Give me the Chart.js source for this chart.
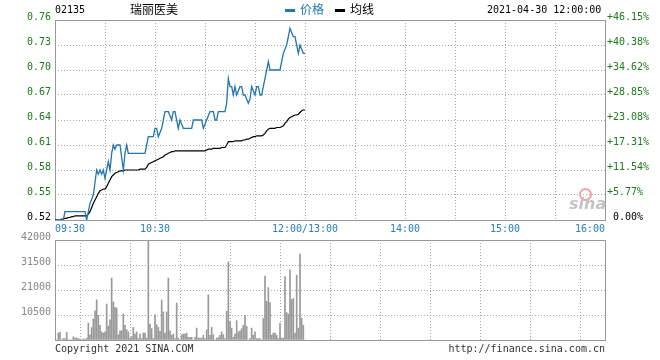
<!DOCTYPE html>
<html>
<head>
<meta charset="utf-8">
<title>02135 瑞丽医美</title>
<script src="https://cdn.jsdelivr.net/npm/chart.js@4.4.0/dist/chart.umd.min.js"></script>
<style>
  body { margin: 0; background: #fff; }
  #wrap { position: relative; width: 660px; height: 360px; overflow: hidden;
          font-family: "DejaVu Sans Mono", monospace; font-size: 10px; color: #000; }
  canvas { position: absolute; left: 0; }
  #price-chart { top: 0; }
  #volume-chart { top: 230px; }
  .txt { position: absolute; white-space: nowrap; line-height: 12px; }
  .cjk { font-family: "Noto Sans CJK SC", sans-serif; font-size: 12px; line-height: 14px; }
  .dash { position: absolute; width: 10px; height: 3px; }
</style>
</head>
<body>
<div id="wrap">
  <canvas id="price-chart" width="660" height="240"></canvas>
  <canvas id="volume-chart" width="660" height="130"></canvas>

  <div class="txt" style="left:55px;top:4px;">02135</div>
  <div class="txt cjk" style="left:130px;top:2px;">瑞丽医美</div>
  <div class="dash" style="left:285px;top:9px;background:#2376ae;"></div>
  <div class="txt cjk" style="left:300px;top:2px;color:#2376ae;">价格</div>
  <div class="dash" style="left:335px;top:9px;background:#000;"></div>
  <div class="txt cjk" style="left:350px;top:2px;">均线</div>
  <div class="txt" style="left:487px;top:4px;">2021-04-30 12:00:00</div>

  <div class="txt" style="left:579px;top:188px;width:9px;height:9px;border:2px solid #f0a0a8;border-radius:50%;"></div>
  <div class="txt" style="left:569px;top:195px;font-family:'DejaVu Sans',sans-serif;font-size:16px;line-height:18px;font-style:italic;font-weight:bold;color:#c4c4c4;">sina</div>

  <div class="txt" style="left:55px;top:343px;color:#333;">Copyright 2021 SINA.COM</div>
  <div class="txt" style="right:55px;top:343px;color:#333;">http://finance.sina.com.cn</div>
</div>

<script>
// 02135 瑞丽医美 intraday, 2021-04-30 (minutes since 09:30, morning session only)
const prevClose = 0.52;

const prices = [
  0.52, 0.52, 0.52, 0.52, 0.52, 0.52,
  0.53, 0.53, 0.53, 0.53, 0.53, 0.53, 0.53, 0.53, 0.53, 0.53, 0.53, 0.53, 0.53,
  0.52, 0.53, 0.54, 0.545, 0.55, 0.565, 0.58, 0.575, 0.58, 0.575,
  0.58, 0.57, 0.58, 0.59, 0.58, 0.60, 0.61, 0.605, 0.61, 0.61,
  0.61, 0.595, 0.58, 0.60, 0.61,
  0.60, 0.60, 0.60, 0.60, 0.60, 0.60, 0.60, 0.60, 0.60, 0.60, 0.60,
  0.61, 0.62, 0.62, 0.62, 0.62,
  0.63, 0.63, 0.62, 0.625, 0.63, 0.64,
  0.65, 0.65, 0.65,
  0.645, 0.64, 0.65, 0.65, 0.64, 0.63, 0.64, 0.635,
  0.63, 0.63, 0.63, 0.63, 0.63, 0.63,
  0.64, 0.64, 0.64, 0.64, 0.64, 0.64,
  0.63, 0.635, 0.64, 0.645,
  0.65, 0.65, 0.65,
  0.64, 0.64,
  0.65, 0.65, 0.65, 0.65, 0.65,
  0.66, 0.69, 0.68, 0.68, 0.67, 0.68, 0.67, 0.675, 0.68, 0.68,
  0.67, 0.67, 0.665, 0.66, 0.665, 0.68, 0.675, 0.67, 0.68, 0.68,
  0.67, 0.67, 0.68, 0.69, 0.70, 0.71,
  0.70, 0.70, 0.70, 0.70, 0.70, 0.70, 0.70,
  0.71, 0.72, 0.725, 0.73, 0.74, 0.75, 0.745, 0.74, 0.74, 0.73,
  0.72, 0.73, 0.725, 0.72, 0.72
];

const avgPrices = [
  0.52, 0.52, 0.52, 0.52, 0.521, 0.521, 0.522, 0.522, 0.523, 0.523,
  0.524, 0.524, 0.525, 0.525, 0.525, 0.525, 0.525, 0.525, 0.525, 0.525,
  0.527, 0.53, 0.535, 0.54, 0.544, 0.548, 0.552, 0.555, 0.556, 0.557,
  0.557, 0.56, 0.564, 0.568, 0.572, 0.574, 0.576, 0.577, 0.578, 0.579,
  0.579, 0.579, 0.58, 0.58, 0.58, 0.58, 0.58, 0.58, 0.58, 0.58,
  0.58, 0.581, 0.581, 0.581, 0.581, 0.583, 0.587, 0.588, 0.589, 0.59,
  0.591, 0.592, 0.593, 0.594, 0.595, 0.596, 0.598, 0.599, 0.60, 0.601,
  0.602, 0.602, 0.603, 0.603, 0.603, 0.603, 0.603, 0.603, 0.603, 0.603,
  0.603, 0.603, 0.603, 0.603, 0.603, 0.603, 0.603, 0.603, 0.603, 0.603,
  0.603, 0.604, 0.605, 0.605, 0.605, 0.606, 0.606, 0.606, 0.606, 0.606,
  0.607, 0.607, 0.607, 0.61, 0.614, 0.614, 0.614, 0.614, 0.615, 0.615,
  0.615, 0.615, 0.615, 0.616, 0.616, 0.617, 0.617, 0.618, 0.619, 0.62,
  0.62, 0.621, 0.621, 0.621, 0.621, 0.622, 0.624, 0.627, 0.629, 0.63,
  0.63, 0.63, 0.63, 0.631, 0.631, 0.631, 0.632, 0.633, 0.636, 0.638,
  0.641, 0.643, 0.644, 0.645, 0.646, 0.646, 0.647, 0.649, 0.651, 0.652,
  0.652
];

const volumes = [
  0, 0, 2900, 3200, 0, 600, 600, 3200, 0, 0,
  0, 1300, 800, 800, 600, 400, 0, 400, 400, 800,
  7100, 2200, 5200, 8800, 12300, 16900, 10400, 6200, 3400, 2900,
  3400, 15100, 5900, 8500, 26000, 16000, 13700, 13400, 2200, 3800,
  3900, 10900, 6200, 4300, 3400, 800, 1400, 5300, 2500, 3400,
  600, 2500, 600, 2900, 2900, 800, 41700, 6700, 4800, 600,
  10600, 6400, 5300, 3600, 16800, 11800, 2900, 11800, 26000, 3900,
  2000, 2500, 600, 15500, 800, 0, 2200, 2500, 2500, 2900,
  1100, 1100, 1100, 0, 1100, 5000, 800, 800, 800, 2000,
  600, 4300, 19000, 2000, 5300, 2200, 0, 800, 1100, 2000,
  3400, 2200, 600, 12000, 32800, 7800, 5000, 1100, 2500, 8100,
  3400, 3900, 4800, 6200, 10400, 5700, 0, 600, 5000, 2000,
  3400, 600, 600, 600, 0, 9000, 26800, 16200, 22000, 15700,
  2000, 2900, 2900, 2000, 600, 7000, 800, 800, 26600, 11500,
  10900, 29500, 17000, 17400, 2900, 27200, 5000, 36100, 9200, 6200,
  0
];

// one entry per trading minute, 0 = 09:30, 150 = 12:00
const minutes = prices.map((p, i) => i);

const gridMinutes = [0, 30, 60, 90, 120, 150, 180, 210, 240, 270, 300, 330];
const timeTickMinutes = [0, 60, 150, 210, 270, 330];
const timeTickLabels = ['09:30', '10:30', '12:00/13:00', '14:00', '15:00', '16:00'];

const priceTicks = [0.52, 0.55, 0.58, 0.61, 0.64, 0.67, 0.70, 0.73, 0.76];
const pctLabels = ['0.00%', '+5.77%', '+11.54%', '+17.31%', '+23.08%', '+28.85%', '+34.62%', '+40.38%', '+46.15%'];
const volumeTicks = [0, 10500, 21000, 31500, 42000];

const monoFont = { family: '"DejaVu Sans Mono", monospace', size: 10 };
const gridColor = '#a8a8a8';

const framePlugin = {
  id: 'frame',
  beforeDatasetsDraw(chart) {
    const a = chart.chartArea;
    const c = chart.ctx;
    c.save();
    c.strokeStyle = '#999';
    c.lineWidth = 1;
    c.setLineDash([]);
    c.strokeRect(a.left + 0.5, a.top + 0.5, a.right - a.left, a.bottom - a.top);
    c.restore();
  }
};

function timeAxis(showLabels) {
  return {
    type: 'linear', min: 0, max: 330, offset: false,
    afterBuildTicks: s => { s.ticks = gridMinutes.map(v => ({ value: v })); },
    afterFit: s => { s.height = 20; },
    grid: { color: gridColor, drawTicks: false },
    border: { display: false, dash: [1, 2] },
    ticks: {
      display: showLabels, autoSkip: false, maxRotation: 0, align: 'inner', padding: 3,
      color: '#2a7fb8', font: monoFont,
      callback: v => {
        const i = timeTickMinutes.indexOf(v);
        return i >= 0 ? timeTickLabels[i] : '';
      }
    }
  };
}

new Chart(document.getElementById('price-chart'), {
  type: 'line',
  data: {
    labels: minutes,
    datasets: [
      { label: '价格', data: prices, borderColor: '#2376ae', borderWidth: 1.3, pointRadius: 0, tension: 0 },
      { label: '均线', data: avgPrices, borderColor: '#000', borderWidth: 1.2, pointRadius: 0, tension: 0 }
    ]
  },
  options: {
    responsive: false,
    animation: false,
    layout: { padding: { top: 20, left: 0, right: 0, bottom: 0 } },
    plugins: { legend: { display: false }, tooltip: { enabled: false } },
    scales: {
      x: timeAxis(true),
      y: {
        min: 0.52, max: 0.76,
        afterBuildTicks: s => { s.ticks = priceTicks.map(v => ({ value: v })); },
        afterFit: s => { s.width = 55; },
        grid: { color: gridColor, drawTicks: false },
        border: { display: false, dash: [1, 2] },
        ticks: {
          padding: 4, labelOffset: -3, font: monoFont,
          color: ctx => ctx.index === 0 ? '#000' : '#1d7a1d',
          callback: v => v.toFixed(2)
        }
      },
      yr: {
        position: 'right', min: 0.52, max: 0.76,
        afterBuildTicks: s => { s.ticks = priceTicks.map(v => ({ value: v })); },
        afterFit: s => { s.width = 55; },
        grid: { display: false, drawTicks: false },
        border: { display: false },
        ticks: {
          padding: 2, labelOffset: -3, font: monoFont,
          color: ctx => ctx.index === 0 ? '#000' : '#1d7a1d',
          callback: (v, i) => (i === 0 ? ' ' : '') + pctLabels[i]
        }
      }
    }
  },
  plugins: [framePlugin]
});

new Chart(document.getElementById('volume-chart'), {
  type: 'bar',
  data: {
    labels: minutes,
    datasets: [
      { label: '成交量', data: volumes, backgroundColor: '#999', barThickness: 1, grouped: false }
    ]
  },
  options: {
    responsive: false,
    animation: false,
    layout: { padding: { top: 10, left: 0, right: 55, bottom: 0 } },
    plugins: { legend: { display: false }, tooltip: { enabled: false } },
    scales: {
      x: timeAxis(false),
      y: {
        min: 0, max: 42000,
        afterBuildTicks: s => { s.ticks = volumeTicks.map(v => ({ value: v })); },
        afterFit: s => { s.width = 55; },
        grid: { color: gridColor, drawTicks: false },
        border: { display: false, dash: [1, 2] },
        ticks: {
          padding: 4, labelOffset: -3, font: monoFont, color: '#888',
          callback: v => v === 0 ? '' : String(v)
        }
      }
    }
  },
  plugins: [framePlugin]
});
</script>
</body>
</html>
